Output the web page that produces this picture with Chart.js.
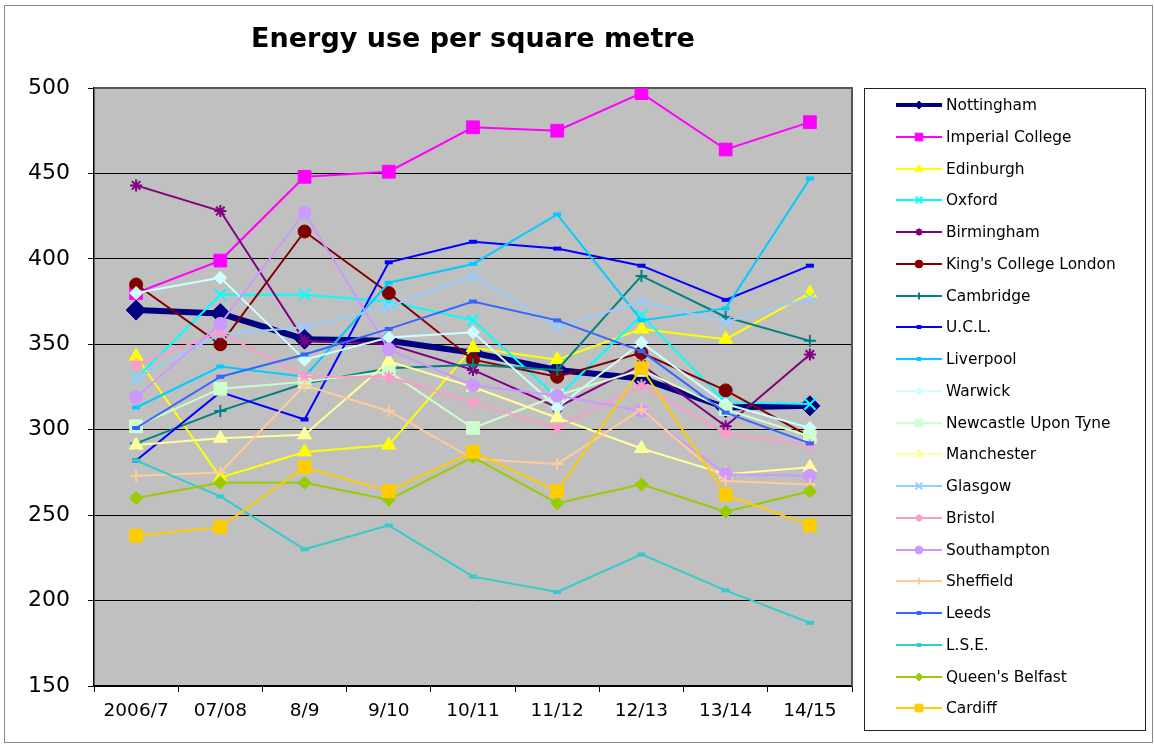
<!DOCTYPE html>
<html>
<head>
<meta charset="utf-8">
<title>Energy use per square metre</title>
<script src="https://cdn.jsdelivr.net/npm/chart.js"></script>
<style>
    body { margin: 0; background: #fff; font-family: "DejaVu Sans", Verdana, sans-serif; }
    #wrap { position: relative; width: 1154px; height: 744px; overflow: hidden; }
    #frame { position: absolute; left: 4px; top: 5px; width: 1149px; height: 738px; border: 1px solid #888; box-sizing: border-box; pointer-events: none; }
    #energyChart { position: absolute; left: 0; top: 0; }
    #legend { position: absolute; left: 864px; top: 88px; width: 282px; height: 643px; border: 1px solid #222; box-sizing: border-box; background: #fff; }
    .row { position: absolute; left: 0; height: 20px; display: flex; align-items: center; white-space: nowrap; }
    .row canvas { margin-left: 31px; }
    .row span { margin-left: 4px; font-size: 15.4px; color: #000; }
</style>
</head>
<body>
<div id="wrap">
    <canvas id="energyChart" width="1154" height="744"></canvas>
    <div id="legend"></div>
    <div id="frame"></div>
</div>
<script>
// years along the x axis
const years = ['2006/7', '07/08', '8/9', '9/10', '10/11', '11/12', '12/13', '13/14', '14/15'];

// energy use per square metre
const nottingham  = [370, 368, 353, 352, 345, 335, 330, 313, 314];
const imperial    = [380, 399, 448, 451, 477, 475, 497, 464, 480];
const edinburgh   = [343, 272, 287, 291, 348, 341, 359, 353, 380];
const oxford      = [330, 379, 379, 375, 364, 319, 367, 316, 315];
const birmingham  = [443, 428, 352, 350, 335, 313, 338, 302, 344];
const kings       = [385, 350, 416, 380, 341, 331, 345, 323, 296];
const cambridge   = [292, 311, 327, 336, 338, 335, 390, 366, 352];
const ucl         = [282, 322, 306, 398, 410, 406, 396, 376, 396];
const liverpool   = [313, 337, 331, 386, 397, 426, 364, 371, 447];
const warwick     = [380, 389, 341, 354, 357, 313, 351, 315, 301];
const newcastle   = [302, 324, 328, 334, 301, 320, 335, 312, 296];
const manchester  = [291, 295, 297, 340, 325, 307, 289, 274, 278];
const glasgow     = [330, 356, 360, 372, 390, 360, 375, 363, 377];
const bristol     = [338, 357, 331, 331, 316, 301, 326, 298, 291];
const southampton = [319, 362, 427, 347, 326, 320, 311, 274, 273];
const sheffield   = [273, 275, 326, 311, 283, 280, 312, 270, 268];
const leeds       = [301, 331, 344, 359, 375, 364, 346, 310, 292];
const lse         = [282, 261, 230, 244, 214, 205, 227, 206, 187];
const belfast     = [260, 269, 269, 259, 284, 257, 268, 252, 264];
const cardiff     = [238, 243, 278, 264, 287, 264, 336, 262, 244];

// name, values, colour, line width, marker, marker radius
const series = [
    ['Nottingham', nottingham, '#000080', 6, 'rectRot', 10],
    ['Imperial College', imperial, '#FF00FF', 2, 'rect', 9],
    ['Edinburgh', edinburgh, '#FFFF00', 2, 'triangle', 8],
    ['Oxford', oxford, '#00FFFF', 2, 'crossRot', 8],
    ['Birmingham', birmingham, '#800080', 2, 'star', 6],
    ["King's College London", kings, '#800000', 2, 'circle', 6.5],
    ['Cambridge', cambridge, '#008080', 2, 'cross', 6],
    ['U.C.L.', ucl, '#0000FF', 2, 'line', 4],
    ['Liverpool', liverpool, '#00CCFF', 2, 'line', 4],
    ['Warwick', warwick, '#CCFFFF', 2, 'rectRot', 6.5],
    ['Newcastle Upon Tyne', newcastle, '#CCFFCC', 2, 'rect', 9],
    ['Manchester', manchester, '#FFFF99', 2, 'triangle', 8],
    ['Glasgow', glasgow, '#99CCFF', 2, 'crossRot', 8],
    ['Bristol', bristol, '#FF99CC', 2, 'star', 6],
    ['Southampton', southampton, '#CC99FF', 2, 'circle', 6.5],
    ['Sheffield', sheffield, '#FFCC99', 2, 'cross', 6],
    ['Leeds', leeds, '#3366FF', 2, 'line', 4],
    ['L.S.E.', lse, '#33CCCC', 2, 'line', 4],
    ["Queen's Belfast", belfast, '#99CC00', 2, 'rectRot', 6.5],
    ['Cardiff', cardiff, '#FFCC00', 2, 'rect', 9]
];

const strokeOnly = ['cross', 'crossRot', 'star', 'line'];

function markerWidth(style) {
    if (style === 'line') return 4;
    return strokeOnly.includes(style) ? 2 : 1;
}

const datasets = series.map(([name, values, colour, width, marker, radius], i) => ({
    label: name,
    data: values,
    borderColor: colour,
    backgroundColor: colour,
    borderWidth: width,
    pointStyle: marker,
    pointRadius: radius,
    pointHoverRadius: radius,
    pointBorderColor: colour,
    pointBackgroundColor: colour,
    pointBorderWidth: markerWidth(marker),
    tension: 0,
    order: series.length - i   // later series drawn on top, like the original
}));

// grey plot area with its outline
const plotArea = {
    id: 'plotArea',
    beforeDraw(chart) {
        const { ctx, chartArea: a } = chart;
        ctx.save();
        ctx.fillStyle = '#C0C0C0';
        ctx.fillRect(a.left, a.top, a.right - a.left, a.bottom - a.top);
        ctx.restore();
    },
    beforeDatasetsDraw(chart) {
        const { ctx, chartArea: a } = chart;
        ctx.save();
        ctx.strokeStyle = '#555';
        ctx.lineWidth = 2;
        ctx.beginPath();
        ctx.moveTo(a.left, a.top);
        ctx.lineTo(a.right, a.top);
        ctx.lineTo(a.right, a.bottom);
        ctx.stroke();
        ctx.restore();
    }
};

const font = 'DejaVu Sans';

new Chart(document.getElementById('energyChart'), {
    type: 'line',
    data: { labels: years, datasets: datasets },
    options: {
        responsive: false,
        animation: false,
        layout: { padding: { left: 0, right: 302, top: 0, bottom: 0 } },
        plugins: {
            legend: { display: false },
            tooltip: { enabled: false },
            title: {
                display: true,
                text: 'Energy use per square metre',
                fullSize: false,
                color: '#000',
                font: { family: font, size: 27, weight: 'bold' },
                padding: { top: 24, bottom: 31.6 }
            }
        },
        scales: {
            x: {
                offset: true,
                grid: { drawOnChartArea: false, offset: true, tickLength: 6, color: '#000' },
                border: { color: '#000', width: 1.5 },
                ticks: { color: '#000', font: { family: font, size: 18.5 }, padding: 8, maxRotation: 0, autoSkip: false },
                afterFit: scale => { scale.height = 58; }
            },
            y: {
                min: 150,
                max: 500,
                grid: { color: '#000', lineWidth: 1, tickLength: 6 },
                border: { color: '#000', width: 1.5 },
                ticks: { stepSize: 50, color: '#000', font: { family: font, size: 22 }, padding: 18 },
                afterFit: scale => { scale.width = 94; }
            }
        }
    },
    plugins: [plotArea]
});

// legend box on the right, one row per series
const legend = document.getElementById('legend');
series.forEach(([name, values, colour, width, marker, radius], i) => {
    const row = document.createElement('div');
    row.className = 'row';
    row.style.top = (105 + i * 31.75 - 10 - 89) + 'px';

    const sample = document.createElement('canvas');
    sample.width = 46;
    sample.height = 16;
    const c = sample.getContext('2d');
    c.strokeStyle = colour;
    c.fillStyle = colour;
    c.lineWidth = i === 0 ? 4 : 2;
    c.beginPath();
    c.moveTo(0, 8);
    c.lineTo(46, 8);
    c.stroke();
    if (Chart.helpers && Chart.helpers.drawPoint) {
        c.lineWidth = markerWidth(marker);
        Chart.helpers.drawPoint(c, {
            pointStyle: marker,
            radius: i === 0 ? 4 : radius * 0.6,
            rotation: 0,
            borderWidth: strokeOnly.includes(marker) ? 1.5 : 1
        }, 23, 8);
    }

    const text = document.createElement('span');
    text.textContent = name;

    row.appendChild(sample);
    row.appendChild(text);
    legend.appendChild(row);
});
</script>
</body>
</html>
